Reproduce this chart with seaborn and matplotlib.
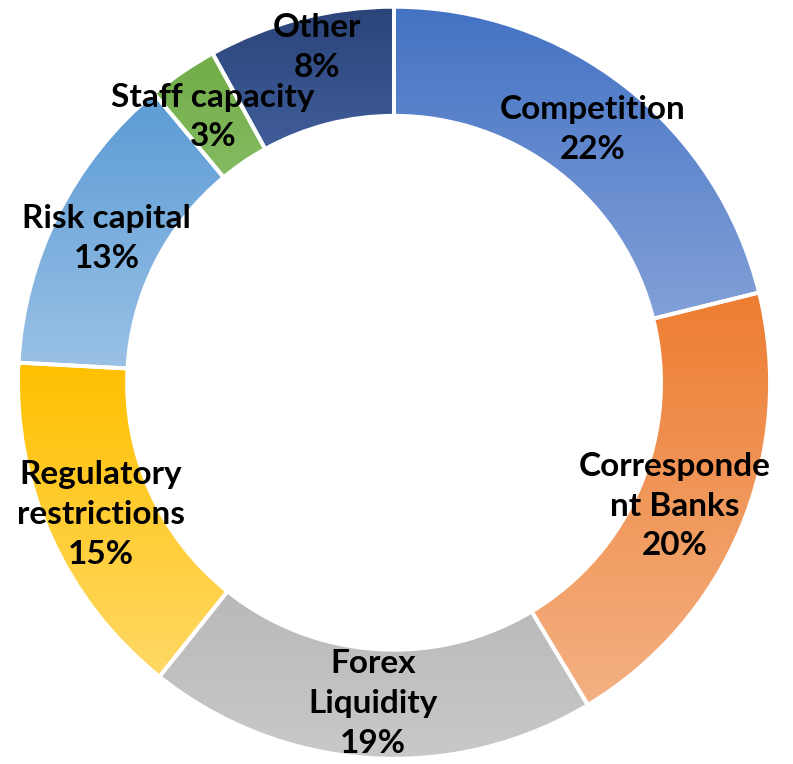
import numpy as np
import matplotlib
matplotlib.use("Agg")
import matplotlib.pyplot as plt
import seaborn as sns
from matplotlib.colors import LinearSegmentedColormap

categories = ["Competition", "Corresponde\nnt Banks", "Forex\nLiquidity",
              "Regulatory\nrestrictions", "Risk capital", "Staff capacity", "Other"]
shares = [21.1, 20.2, 19.3, 15.1, 13.1, 3.0, 8.0]
pct_labels = [22, 20, 19, 15, 13, 3, 8]
top_colors = ["#4472C4", "#ED7D31", "#A5A5A5", "#FFC000", "#5B9BD5", "#70AD47", "#2B4479"]
bottom_colors = ["#8FAADC", "#F4B183", "#C9C9C9", "#FFD966", "#9DC3E6", "#A9D18E", "#6388D2"]

sns.set_theme(style="white")
plt.rcParams['font.family'] = ['Lato', 'DejaVu Sans']

fig = plt.figure(figsize=(7.93, 7.64), dpi=100)
ax = fig.add_axes([0, 0, 1, 1])

ring = 0.29
wedges, _ = ax.pie(shares, startangle=90, counterclock=False, radius=1.0,
                   colors=top_colors,
                   wedgeprops=dict(width=ring, edgecolor="white", linewidth=2.8))

# vertical gradient inside each slice (dark at top, light at bottom)
grad = np.linspace(0, 1, 256).reshape(-1, 1)
for w, c0, c1 in zip(wedges, top_colors, bottom_colors):
    cmap = LinearSegmentedColormap.from_list("g", [c0, c1])
    verts = w.get_path().vertices
    x0, x1 = verts[:, 0].min(), verts[:, 0].max()
    y0, y1 = verts[:, 1].min(), verts[:, 1].max()
    im = ax.imshow(grad, cmap=cmap, aspect="auto", extent=(x0, x1, y0, y1),
                   origin="upper", zorder=1)
    im.set_clip_path(w)
    w.set_facecolor("none")
    w.set_zorder(2)

# labels centred in the ring; a couple are nudged like in the original
nudges = {1: (-12, 0), 6: (2, 17)}
r_lab = 1 - ring / 2
for i, (w, name, val) in enumerate(zip(wedges, categories, pct_labels)):
    ang = np.deg2rad((w.theta1 + w.theta2) / 2)
    ax.annotate(f"{name}\n{val}%", (r_lab * np.cos(ang), r_lab * np.sin(ang)),
                xytext=nudges.get(i, (0, 0)), textcoords="offset points",
                ha="center", va="center", fontsize=24, fontweight="bold",
                color="black", linespacing=1.45, zorder=3)

ax.set_xlim(-1.048, 1.061)
ax.set_ylim(-1.014, 1.018)
ax.set_aspect("auto")
ax.axis("off")

fig.savefig("out.png", dpi=100)
